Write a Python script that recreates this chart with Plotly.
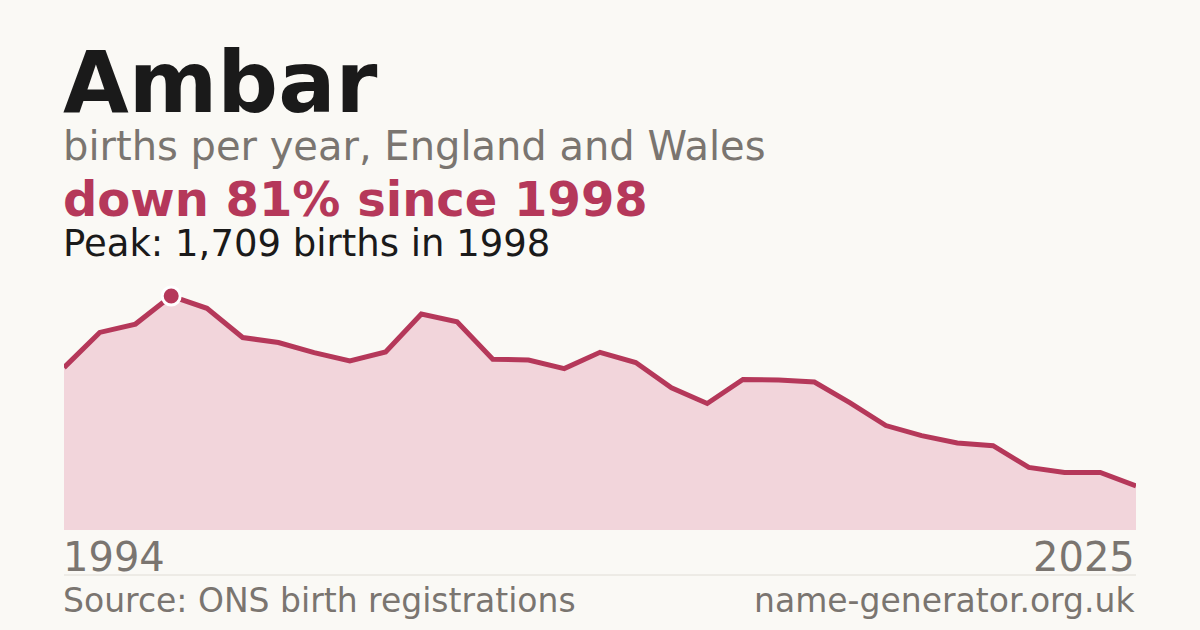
import plotly.graph_objects as go

# births per year
years = list(range(1995, 2026))
births = [1186, 1443, 1504, 1709, 1619, 1406, 1369, 1296, 1235, 1301,
          1577, 1521, 1247, 1242, 1179, 1298, 1223, 1039, 924, 1100,
          1095, 1081, 929, 763, 689, 636, 616, 457, 420, 420, 322]
end_labels = ["1994", "2025"]

name = "Ambar"
subtitle = "births per year, England and Wales"
change_text = "down 81% since 1998"
peak_text = "Peak: 1,709 births in 1998"
source_text = "Source: ONS birth registrations"
site_text = "name-generator.org.uk"

bg = "#faf9f5"
accent = "#b5385a"
fill = "#f2d5db"
grey = "#7a7570"
dark = "#1a1a1a"
font = "DejaVu Sans"

peak_i = births.index(max(births))

fig = go.Figure()
fig.add_trace(go.Scatter(x=years, y=births, mode="lines", fill="tozeroy",
                         fillcolor=fill, line=dict(color=accent, width=5),
                         hoverinfo="skip"))
fig.add_trace(go.Scatter(x=[years[peak_i]], y=[births[peak_i]], mode="markers",
                         marker=dict(size=18, color=accent,
                                     line=dict(color="white", width=3)),
                         hoverinfo="skip"))

# plot area spans y 280..530 px, so paper y = (530 - px) / 250
def py(px):
    return (530 - px) / 250


def note(text, x, y, size, color, anchor="left", bold=False):
    if bold:
        text = "<b>" + text + "</b>"
    # nudge left-aligned text 2px so glyphs start at the plot edge
    if anchor == "left":
        x = x - 2 / 1072
    fig.add_annotation(text=text, x=x, y=py(y), xref="paper", yref="paper",
                       xanchor=anchor, yanchor="middle", showarrow=False,
                       borderpad=0, font=dict(family=font, size=size, color=color))


note(name, 0, 82, 85, dark, bold=True)
note(subtitle, 0, 146, 40, grey)
note(change_text, 0, 199, 48, accent, bold=True)
note(peak_text, 0, 243, 37, dark)
note(end_labels[0], 0, 557, 40, grey)
note(end_labels[1], 1, 557, 40, grey, anchor="right")
note(source_text, 0, 600, 33, grey)
note(site_text, 1, 600, 33, grey, anchor="right")

fig.add_shape(type="line", xref="paper", yref="paper", x0=0, x1=1,
              y0=py(575), y1=py(575), line=dict(color="#e0ddd6", width=1))

fig.update_layout(
    width=1200, height=630,
    margin=dict(l=64, r=64, t=280, b=100),
    paper_bgcolor=bg, plot_bgcolor=bg,
    showlegend=False,
    xaxis=dict(visible=False, range=[years[0], years[-1]], fixedrange=True),
    yaxis=dict(visible=False, range=[0, 1826], fixedrange=True),
)

fig.write_html("out.html", config={"displayModeBar": False},
               post_script="document.body.style.margin='0';"
                           "document.body.style.background='#faf9f5';")
